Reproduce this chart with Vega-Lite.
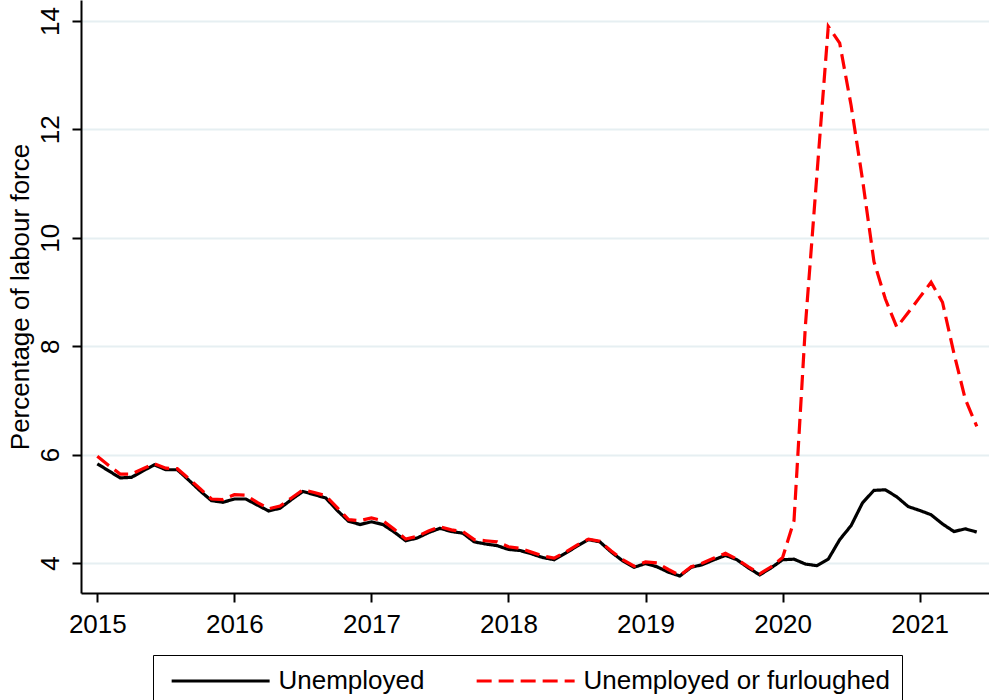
{
  "$schema": "https://vega.github.io/schema/vega-lite/v6.json",
  "autosize": {"type": "none"},
  "padding": {"left": 81, "top": 0, "right": 0, "bottom": 107},
  "width": 908,
  "height": 593,
  "background": "white",
  "config": {
    "view": {"stroke": null},
    "font": "Liberation Sans",
    "axis": {"labelFont": "Liberation Sans", "titleFont": "Liberation Sans", "labelColor": "black", "titleColor": "black"}
  },
  "data": {"values": [
    {"t":2015.0,"u":5.83,"f":5.97},{"t":2015.0833,"u":5.70,"f":5.80},{"t":2015.1667,"u":5.57,"f":5.64},{"t":2015.25,"u":5.58,"f":5.64},
    {"t":2015.3333,"u":5.70,"f":5.74},{"t":2015.4167,"u":5.81,"f":5.83},{"t":2015.5,"u":5.72,"f":5.75},{"t":2015.5833,"u":5.72,"f":5.74},
    {"t":2015.6667,"u":5.53,"f":5.56},{"t":2015.75,"u":5.33,"f":5.37},{"t":2015.8333,"u":5.15,"f":5.18},{"t":2015.9167,"u":5.12,"f":5.17},
    {"t":2016.0,"u":5.18,"f":5.26},{"t":2016.0833,"u":5.18,"f":5.25},{"t":2016.1667,"u":5.07,"f":5.12},{"t":2016.25,"u":4.96,"f":5.00},
    {"t":2016.3333,"u":5.01,"f":5.05},{"t":2016.4167,"u":5.17,"f":5.20},{"t":2016.5,"u":5.32,"f":5.35},{"t":2016.5833,"u":5.26,"f":5.30},
    {"t":2016.6667,"u":5.20,"f":5.24},{"t":2016.75,"u":4.97,"f":5.02},{"t":2016.8333,"u":4.77,"f":4.80},{"t":2016.9167,"u":4.71,"f":4.78},
    {"t":2017.0,"u":4.76,"f":4.83},{"t":2017.0833,"u":4.71,"f":4.78},{"t":2017.1667,"u":4.57,"f":4.62},{"t":2017.25,"u":4.41,"f":4.44},
    {"t":2017.3333,"u":4.46,"f":4.49},{"t":2017.4167,"u":4.56,"f":4.59},{"t":2017.5,"u":4.64,"f":4.67},{"t":2017.5833,"u":4.58,"f":4.61},
    {"t":2017.6667,"u":4.55,"f":4.58},{"t":2017.75,"u":4.39,"f":4.43},{"t":2017.8333,"u":4.35,"f":4.41},{"t":2017.9167,"u":4.32,"f":4.39},
    {"t":2018.0,"u":4.25,"f":4.30},{"t":2018.0833,"u":4.23,"f":4.27},{"t":2018.1667,"u":4.17,"f":4.20},{"t":2018.25,"u":4.10,"f":4.13},
    {"t":2018.3333,"u":4.06,"f":4.09},{"t":2018.4167,"u":4.18,"f":4.20},{"t":2018.5,"u":4.31,"f":4.33},{"t":2018.5833,"u":4.43,"f":4.44},
    {"t":2018.6667,"u":4.39,"f":4.40},{"t":2018.75,"u":4.20,"f":4.22},{"t":2018.8333,"u":4.04,"f":4.06},{"t":2018.9167,"u":3.92,"f":3.94},
    {"t":2019.0,"u":3.99,"f":4.02},{"t":2019.0833,"u":3.93,"f":4.00},{"t":2019.1667,"u":3.83,"f":3.88},{"t":2019.25,"u":3.76,"f":3.77},
    {"t":2019.3333,"u":3.92,"f":3.93},{"t":2019.4167,"u":3.97,"f":4.00},{"t":2019.5,"u":4.06,"f":4.09},{"t":2019.5833,"u":4.14,"f":4.18},
    {"t":2019.6667,"u":4.06,"f":4.07},{"t":2019.75,"u":3.91,"f":3.93},{"t":2019.8333,"u":3.78,"f":3.80},{"t":2019.9167,"u":3.91,"f":3.93},
    {"t":2020.0,"u":4.06,"f":4.10},{"t":2020.0833,"u":4.07,"f":4.78},{"t":2020.1667,"u":3.98,"f":8.39},{"t":2020.25,"u":3.95,"f":11.15},
    {"t":2020.3333,"u":4.07,"f":13.90},{"t":2020.4167,"u":4.43,"f":13.59},{"t":2020.5,"u":4.69,"f":12.44},{"t":2020.5833,"u":5.11,"f":11.07},
    {"t":2020.6667,"u":5.34,"f":9.56},{"t":2020.75,"u":5.35,"f":8.87},{"t":2020.8333,"u":5.22,"f":8.35},{"t":2020.9167,"u":5.04,"f":8.62},
    {"t":2021.0,"u":4.97,"f":8.90},{"t":2021.0833,"u":4.89,"f":9.18},{"t":2021.1667,"u":4.72,"f":8.81},{"t":2021.25,"u":4.58,"f":7.87},
    {"t":2021.3333,"u":4.63,"f":7.02},{"t":2021.4167,"u":4.57,"f":6.52}
  ]},
  "transform": [{"fold": ["u", "f"], "as": ["series", "value"]}],
  "mark": {"type": "line", "strokeWidth": 3.2, "clip": true},
  "encoding": {
    "x": {
      "field": "t", "type": "quantitative",
      "scale": {"domain": [2014.881, 2021.506], "nice": false, "zero": false},
      "axis": {
        "title": null, "values": [2015, 2016, 2017, 2018, 2019, 2020, 2021], "format": "d",
        "grid": false, "domainColor": "black", "domainWidth": 2, "tickColor": "black", "tickWidth": 2,
        "tickSize": 9, "labelFontSize": 26, "labelPadding": 9, "labelFlush": false
      }
    },
    "y": {
      "field": "value", "type": "quantitative",
      "scale": {"domain": [3.446, 14.387], "nice": false, "zero": false},
      "axis": {
        "title": "Percentage of labour force", "titleFontSize": 26, "titleFontWeight": "normal", "titlePadding": 4,
        "values": [4, 6, 8, 10, 12, 14], "grid": true, "gridColor": "#e6eff2", "gridWidth": 2,
        "domainColor": "black", "domainWidth": 2, "tickColor": "black", "tickWidth": 2, "tickSize": 9,
        "labelFontSize": 26, "labelAngle": 270, "labelAlign": "center", "labelBaseline": "bottom", "labelPadding": 9
      }
    },
    "color": {
      "field": "series", "type": "nominal",
      "scale": {"domain": ["u", "f"], "range": ["black", "#ff0000"]},
      "legend": {
        "title": null, "orient": "none", "legendX": 72, "legendY": 655, "direction": "horizontal", "columns": 2,
        "labelExpr": "datum.label == 'u' ? 'Unemployed' : 'Unemployed or furloughed'",
        "labelFontSize": 26, "labelFont": "Liberation Sans", "labelColor": "black", "labelOffset": 85.5, "labelLimit": 500,
        "symbolType": "M-0.6,0H7.4", "symbolSize": 600, "symbolStrokeWidth": 3.2, "columnPadding": 45,
        "strokeColor": "black", "padding": 12
      }
    },
    "strokeDash": {
      "field": "series", "type": "nominal",
      "scale": {"domain": ["u", "f"], "range": [[1, 0], [15, 7]]},
      "legend": {
        "title": null, "orient": "none", "legendX": 72, "legendY": 655, "direction": "horizontal", "columns": 2,
        "labelExpr": "datum.label == 'u' ? 'Unemployed' : 'Unemployed or furloughed'",
        "labelFontSize": 26, "labelFont": "Liberation Sans", "labelColor": "black", "labelOffset": 85.5, "labelLimit": 500,
        "symbolType": "M-0.6,0H7.4", "symbolSize": 600, "symbolStrokeWidth": 3.2, "columnPadding": 45,
        "strokeColor": "black", "padding": 12
      }
    }
  }
}
